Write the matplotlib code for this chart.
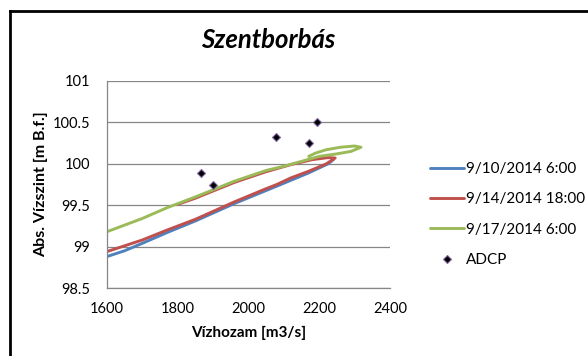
import numpy as np
import matplotlib.pyplot as plt
from matplotlib.lines import Line2D

plt.rcParams['font.family'] = ['Lato', 'DejaVu Sans']

# rating curve loops (Q [m3/s], H [m B.f.])
q_0910 = [1600, 1650, 1700, 1770, 1850, 1960, 2080, 2170, 2225, 2240]
h_0910 = [98.88, 98.95, 99.04, 99.17, 99.31, 99.52, 99.73, 99.89, 100.0, 100.05]

q_0914 = [1600, 1700, 1770, 1850, 1960, 2050, 2080, 2120, 2170, 2220, 2245,
          2225, 2180, 2120, 2050, 1960, 1850, 1800]
h_0914 = [98.94, 99.08, 99.20, 99.33, 99.54, 99.70, 99.75, 99.83, 99.91, 100.0, 100.07,
          100.075, 100.05, 99.99, 99.905, 99.775, 99.585, 99.51]

q_0917 = [1600, 1700, 1770, 1850, 1960, 2050, 2100, 2150, 2200, 2250, 2290, 2318,
          2300, 2260, 2220, 2190, 2170]
h_0917 = [99.18, 99.34, 99.47, 99.60, 99.79, 99.92, 99.97, 100.03, 100.09, 100.12, 100.15, 100.20,
          100.215, 100.20, 100.17, 100.13, 100.09]

q_adcp = [1866, 1899, 2079, 2171, 2193]
h_adcp = [99.89, 99.74, 100.32, 100.25, 100.505]

labels = ['9/10/2014 6:00', '9/14/2014 18:00', '9/17/2014 6:00', 'ADCP']

fig = plt.figure(figsize=(5.88, 3.56), dpi=100)
ax = fig.add_axes([107 / 588, 1 - 288 / 356, 283 / 588, 207 / 356])

l1, = ax.plot(q_0910, h_0910, color='#4F81BD', lw=2.1, solid_capstyle='round')
l2, = ax.plot(q_0914, h_0914, color='#C0504D', lw=2.1, solid_capstyle='round')
l3, = ax.plot(q_0917, h_0917, color='#9BBB59', lw=2.1, solid_capstyle='round')
l4, = ax.plot(q_adcp, h_adcp, 'D', color='black', markersize=4.5,
              markeredgecolor='#8064A2', markeredgewidth=0.8, zorder=5)

ax.set_xlim(1600, 2400)
ax.set_ylim(98.5, 101)
ax.set_xticks([1600, 1800, 2000, 2200, 2400])
ax.set_yticks([98.5, 99, 99.5, 100, 100.5, 101])
ax.set_yticklabels(['98.5', '99', '99.5', '100', '100.5', '101'])
ax.grid(axis='y', color='#868686', lw=0.9)
ax.set_axisbelow(True)
for s in ['top', 'right']:
    ax.spines[s].set_visible(False)
for s in ['left', 'bottom']:
    ax.spines[s].set_color('#868686')
    ax.spines[s].set_linewidth(0.9)
ax.tick_params(length=0, labelsize=10.5)
ax.tick_params(axis='y', pad=12)
ax.tick_params(axis='x', pad=10)

ax.set_xlabel('Vízhozam [m3/s]', fontsize=11, fontweight='bold', labelpad=7)
ax.set_ylabel('Abs. Vízszint [m B.f.]', fontsize=11.5, fontweight='bold', labelpad=3)

fig.text(268 / 588, 1 - 40 / 356, 'Szentborbás', fontsize=18.5, fontweight='bold',
         fontstyle='italic', ha='center', va='center')

fig.legend([l1, l2, l3, l4], labels, loc='upper left', bbox_to_anchor=(430 / 588, 1 - 162 / 356),
           frameon=False, fontsize=11, handlelength=2.2, handletextpad=0.15,
           labelspacing=1.07, borderaxespad=0, borderpad=0)

# chart area border (left and top edges)
fig.add_artist(Line2D([10 / 588, 10 / 588], [0, 1 - 11 / 356], color='black', lw=2,
                      transform=fig.transFigure))
fig.add_artist(Line2D([10 / 588, 1], [1 - 11 / 356, 1 - 11 / 356], color='black', lw=2,
                      transform=fig.transFigure))

fig.savefig('out.png', dpi=100)
